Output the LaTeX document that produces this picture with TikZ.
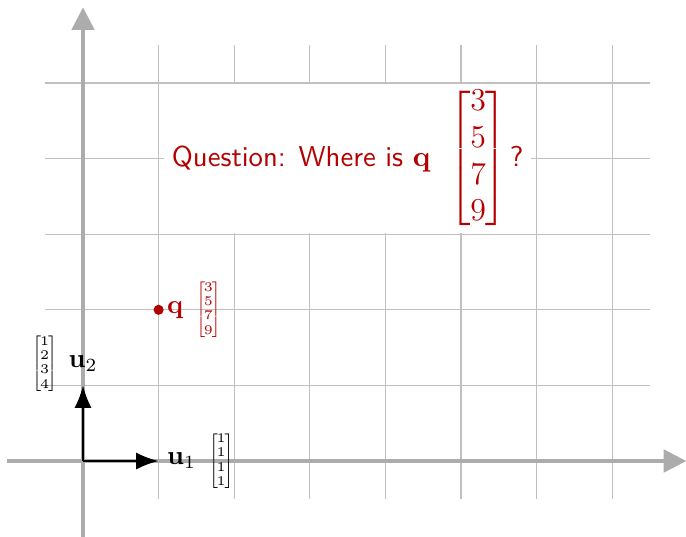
\documentclass[tikz,border=0pt]{standalone}
\usepackage{amsmath}
\usetikzlibrary{arrows.meta}
\definecolor{qred}{RGB}{180,0,0}
\definecolor{gridgray}{RGB}{192,192,192}
\definecolor{axisgray}{RGB}{172,172,172}
\newcommand{\tinyvec}[4]{{\fontsize{4.3pt}{5.4pt}\selectfont$\left[\mkern-1mu\begin{matrix}#1\\#2\\#3\\#4\end{matrix}\mkern-1mu\right]$}}
\newcommand{\bigvec}[4]{{\fontsize{12.5pt}{13.8pt}\selectfont$\begin{bmatrix}#1\\#2\\#3\\#4\end{bmatrix}$}}
\tikzset{
  gridline/.style={gridgray, line width=0.4pt},
  axisline/.style={axisgray, line width=1.2pt, -{Triangle[length=8.5pt,width=8.5pt]}},
  basisarrow/.style={black, line width=0.9pt, -{Latex[length=8.5pt,width=6.5pt]}},
  lab/.style={inner sep=0pt},
}
\begin{document}
\begin{tikzpicture}
\useasboundingbox (-1.098,-0.992) rectangle (7.976,6.098);
% grid
\foreach \y in {0,...,5} \draw[gridline] (-0.5,\y) -- (7.5,\y);
\foreach \x in {0,...,7} \draw[gridline] (\x,-0.5) -- (\x,5.5);
% axes
\coordinate (xs) at (-1,0);
\coordinate (xe) at (7.98,0);
\coordinate (ys) at (0,-1);
\coordinate (ye) at (0,6);
\draw[axisline] (xs) -- (xe);
\draw[axisline] (ys) -- (ye);
% question
\node[fill=white, text=qred, inner xsep=3pt, inner ysep=0.5pt, font=\fontsize{10.8pt}{13pt}\sffamily] (question) at (3.5,4)
  {Question: Where is $\mathbf{q}$\hspace{7pt}\bigvec{3}{5}{7}{9}\hspace{1pt}?};
% point q
\coordinate (q) at (1,2);
\fill[qred] (q) circle (1.9pt);
\node[lab, anchor=west, text=qred] (qlab) at ([xshift=3pt]q) {$\mathbf{q}$};
\node[lab, anchor=west, text=qred] (qmat) at ([xshift=4.5pt]qlab.east) {\tinyvec{3}{5}{7}{9}};
% basis vectors
\coordinate (o) at (0,0);
\coordinate (e1) at (1,0);
\coordinate (e2) at (0,1);
\draw[basisarrow] (o) -- (e1);
\draw[basisarrow] (o) -- (e2);
\node[lab, anchor=west] (u1) at ([xshift=3pt]e1) {$\mathbf{u}_1$};
\node[lab, anchor=west] (u1mat) at ([xshift=4.5pt]u1.east) {\tinyvec{1}{1}{1}{1}};
\node[lab, anchor=south] (u2) at ([yshift=5pt]e2) {$\mathbf{u}_2$};
\node[lab, anchor=east] (u2mat) at ([xshift=-4pt]u2.west) {\tinyvec{1}{2}{3}{4}};
\end{tikzpicture}
\end{document}
